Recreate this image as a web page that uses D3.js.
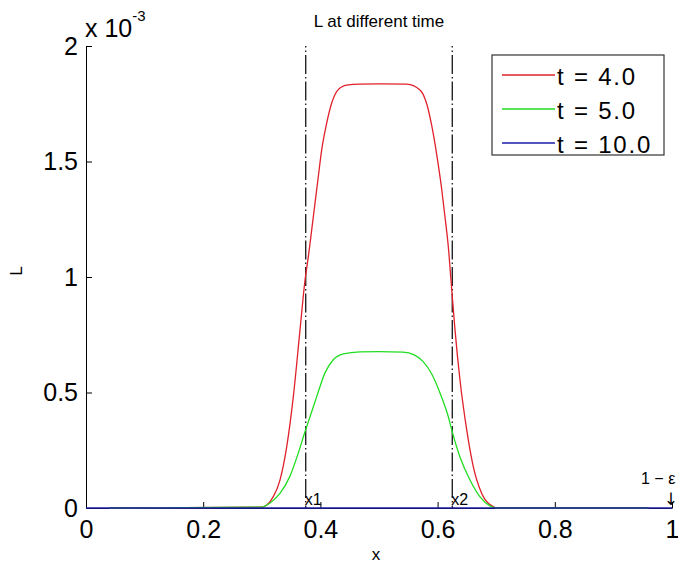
<!DOCTYPE html>
<html>
<head>
<meta charset="utf-8">
<script src="https://cdn.jsdelivr.net/npm/d3@7/dist/d3.min.js"></script>
<style>
  html, body { margin: 0; padding: 0; background: #fff; }
  svg { display: block; }
  text { font-family: "Liberation Sans", Arial, Helvetica, sans-serif; fill: #000; }
</style>
</head>
<body>
<svg id="chart" width="678" height="567"></svg>
<script>
// ---- data (L values in units of 10^-3) ----
const xTicks = [0, 0.2, 0.4, 0.6, 0.8, 1];
const xTickLabels = ["0", "0.2", "0.4", "0.6", "0.8", "1"];
const yTicks = [0, 0.5, 1, 1.5, 2];
const yTickLabels = ["0", "0.5", "1", "1.5", "2"];
const yExponent = "-3";

const seriesNames = ["t = 4.0", "t = 5.0", "t = 10.0"];
const seriesColors = ["#e0202a", "#22dd22", "#1c1ca8"];

const xRed = [0.04, 0.30, 0.3196, 0.331, 0.3425, 0.3538, 0.3652, 0.3737, 0.3794, 0.3851, 0.3908, 0.3964, 0.4022, 0.4108, 0.4193, 0.430, 0.4449, 0.4676, 0.50, 0.5473, 0.570, 0.5814, 0.590, 0.5985, 0.607, 0.6126, 0.6183, 0.6229, 0.6297, 0.6382, 0.6497, 0.6609, 0.6753, 0.695, 0.70, 0.96];
const vRed = [0, 0.004, 0.049, 0.121, 0.265, 0.482, 0.771, 0.985, 1.088, 1.203, 1.320, 1.434, 1.550, 1.667, 1.753, 1.810, 1.831, 1.835, 1.836, 1.835, 1.810, 1.750, 1.655, 1.530, 1.380, 1.261, 1.131, 0.985, 0.771, 0.554, 0.338, 0.179, 0.063, 0.006, 0, 0];

const xGreen = [0.04, 0.2998, 0.314, 0.331, 0.3481, 0.3623, 0.3737, 0.3823, 0.3937, 0.4078, 0.422, 0.4391, 0.4676, 0.50, 0.541, 0.560, 0.575, 0.590, 0.6041, 0.6183, 0.6241, 0.6382, 0.6553, 0.6724, 0.6894, 0.70, 0.96];
const vGreen = [0, 0.004, 0.022, 0.063, 0.138, 0.238, 0.330, 0.395, 0.482, 0.585, 0.642, 0.667, 0.676, 0.677, 0.675, 0.663, 0.635, 0.580, 0.498, 0.395, 0.338, 0.221, 0.121, 0.048, 0.009, 0, 0];

const xBlue = [0, 0.5, 1];
const vBlue = [0, 0, 0];

const markerX = [0.375, 0.625];
const markerLabels = ["x1", "x2"];
const endLabel = "1 \u2212 \u03b5";

// ---- layout ----
const svg = d3.select("#chart");
const x = d3.scaleLinear().domain([0, 1]).range([86, 672]);
const y = d3.scaleLinear().domain([0, 2]).range([508, 46]);

// axes
const xAxis = d3.axisBottom(x).tickValues(xTicks).tickFormat((d, i) => xTickLabels[i])
  .tickSizeInner(-6).tickSizeOuter(0).tickPadding(12);
const yAxis = d3.axisLeft(y).tickValues(yTicks).tickFormat((d, i) => yTickLabels[i])
  .tickSizeInner(-6).tickSizeOuter(0).tickPadding(8);

const gx = svg.append("g").attr("transform", `translate(0,${y(0)})`).call(xAxis);
const gy = svg.append("g").attr("transform", `translate(${x(0)},0)`).call(yAxis);
[gx, gy].forEach(g => {
  g.selectAll("path.domain").attr("stroke", "#000").attr("stroke-width", 1);
  g.selectAll(".tick line").attr("stroke", "#000");
  g.selectAll(".tick text").style("font-size", "25px").attr("fill", "#000")
    .style("font-family", '"Liberation Sans", Arial, sans-serif');
});

// exponent label
const expT = svg.append("text").attr("x", 85).attr("y", 37).style("font-size", "25px");
expT.append("tspan").text("x 10");
expT.append("tspan").attr("dy", -16).style("font-size", "15px").text(yExponent);

// title and axis labels
svg.append("text").attr("x", 379).attr("y", 27).attr("text-anchor", "middle")
  .style("font-size", "17px").text("L at different time");
svg.append("text").attr("transform", "translate(22,271) rotate(-90)").attr("text-anchor", "middle")
  .style("font-size", "17px").text("L");
svg.append("text").attr("x", 376).attr("y", 560).attr("text-anchor", "middle")
  .style("font-size", "17px").text("x");

// dash-dot markers
svg.selectAll("line.marker").data(markerX).enter().append("line")
  .attr("class", "marker")
  .attr("x1", d => x(d)).attr("x2", d => x(d))
  .attr("y1", y(2)).attr("y2", y(0))
  .attr("stroke", "#000").attr("stroke-width", 1.2)
  .attr("stroke-dasharray", "19,3,1.5,3").attr("stroke-dashoffset", 17.5);

svg.selectAll("text.marker").data(markerX).enter().append("text")
  .attr("class", "marker")
  .attr("x", d => x(d) - 1).attr("y", 505)
  .style("font-size", "16px").attr("fill", "#222")
  .text((d, i) => markerLabels[i]);

// curves
const line = d3.line().x(d => x(d[0])).y(d => y(d[1])).curve(d3.curveMonotoneX);
const series = [
  d3.zip(xRed, vRed),
  d3.zip(xGreen, vGreen),
  d3.zip(xBlue, vBlue)
];
series.forEach((s, i) => {
  svg.append("path").datum(s).attr("d", line)
    .attr("fill", "none").attr("stroke", seriesColors[i]).attr("stroke-width", 1.3);
});

// end annotation
svg.append("text").attr("x", 641).attr("y", 484).style("font-size", "16px").text(endLabel);
svg.append("text").attr("x", 678).attr("y", 505).attr("text-anchor", "end")
  .style("font-family", '"DejaVu Sans", sans-serif').style("font-size", "17px").text("\u2193");

// legend
const lg = svg.append("g");
lg.append("rect").attr("x", 492).attr("y", 55).attr("width", 172).attr("height", 100)
  .attr("fill", "#fff").attr("stroke", "#333").attr("stroke-width", 1.2);
const rowY = [75, 109, 143];
seriesNames.forEach((name, i) => {
  lg.append("line").attr("x1", 502).attr("x2", 555).attr("y1", rowY[i]).attr("y2", rowY[i])
    .attr("stroke", seriesColors[i]).attr("stroke-width", 1.3);
  lg.append("text").attr("x", 557).attr("y", rowY[i] + 10)
    .style("font-size", "24px").style("letter-spacing", "1.8px").text(name);
});
</script>
</body>
</html>
